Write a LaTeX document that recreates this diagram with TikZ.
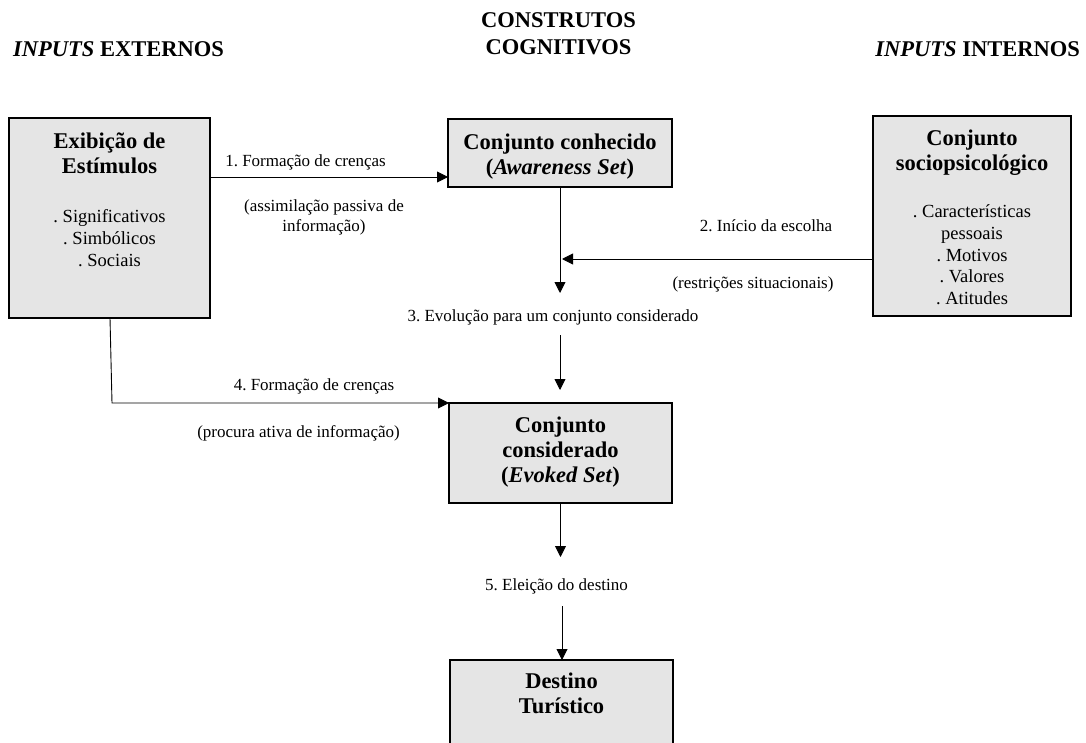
\documentclass[tikz,border=0pt]{standalone}
\usepackage{fontspec}
\setmainfont{Liberation Serif}
\usetikzlibrary{arrows.meta}
\frenchspacing
\begin{document}
\begin{tikzpicture}[x=1pt,y=-1pt,
  box/.style={draw=black, line width=1.4pt, fill=black!10, inner sep=0pt, outer sep=0pt, anchor=north west},
  ttl/.style={font=\fontsize{22.5}{25}\selectfont\bfseries, align=center, inner sep=0pt, anchor=north},
  itm/.style={font=\fontsize{18.5}{21.8}\selectfont, align=center, inner sep=0pt, anchor=north},
  lbl/.style={font=\fontsize{17}{20}\selectfont, align=center, inner sep=0pt, anchor=base},
  lblm/.style={font=\fontsize{17}{20}\selectfont, align=center, inner sep=0pt, anchor=north},
  hdr/.style={font=\fontsize{22.5}{26.7}\selectfont\bfseries, inner sep=0pt},
  arr/.style={line width=0.9pt, -{Triangle[length=11pt,width=11pt]}},
  ln/.style={line width=0.9pt}]
\useasboundingbox (0,0) rectangle (1086,743);
\clip (0,0) rectangle (1086,743);

% headers
\node[hdr, anchor=base west] (hExt) at (13,57) {\textit{INPUTS} EXTERNOS};
\node[hdr, anchor=north, align=center] (hCog) at (558.5,12.5) {CONSTRUTOS\\COGNITIVOS};
\node[hdr, anchor=base east] (hInt) at (1080,57) {\textit{INPUTS} INTERNOS};

% boxes
\node[box, minimum width=201pt, minimum height=200pt] (box1) at (9,118) {};
\node[box, minimum width=224pt, minimum height=68pt] (box2) at (448,119) {};
\node[box, minimum width=198pt, minimum height=200pt] (box3) at (873,116) {};
\node[box, minimum width=223pt, minimum height=100pt] (box4) at (449,403) {};
\node[box, minimum width=223pt, minimum height=120pt] (box5) at (450,660) {};

% box texts
\node[ttl] (t1) at (109.5,133) {Exibição de\\Estímulos};
\node[itm] (i1) at (109.5,209.5) {. Significativos\\. Simbólicos\\. Sociais};
\node[ttl] (t2) at (560,133.5) {Conjunto conhecido\\(\textit{Awareness Set})};
\node[ttl] (t3) at (972,130) {Conjunto\\sociopsicológico};
\node[itm] (i3) at (972,204.5) {. Características\\pessoais\\. Motivos\\. Valores\\. Atitudes};
\node[ttl] (t4) at (560.5,417) {Conjunto\\considerado\\(\textit{Evoked Set})};
\node[ttl] (t5) at (561.5,673) {Destino\\Turístico};

% labels
\node[lbl] (l1) at (305.5,167) {1. Formação de crenças};
\node[lblm] (l1b) at (324,200) {(assimilação passiva de\\informação)};
\node[lbl] (l2) at (766,232) {2. Início da escolha};
\node[lbl] (l2b) at (753,288) {(restrições situacionais)};
\node[lbl] (l3) at (553,321) {3. Evolução para um conjunto considerado};
\node[lbl] (l4) at (314,390) {4. Formação de crenças};
\node[lbl] (l4b) at (298.5,437) {(procura ativa de informação)};
\node[lbl] (l5) at (556.5,590) {5. Eleição do destino};

% coordinates for free ends
\coordinate (e1) at (560,293);
\coordinate (j2) at (562,259);
\coordinate (s3) at (560,335);
\coordinate (e5) at (560.5,557);
\coordinate (s6) at (562,606);

% connectors
\draw[arr] ([yshift=-59pt]box1.north east) -- ([yshift=10pt]box2.south west);
\draw[arr] (box2.south) -- (e1);
\draw[arr] (box3.west |- j2) -- (j2);
\draw[arr, shorten >=13pt] (s3) -- (s3 |- box4.north);
\draw[arr] ([xshift=101pt]box1.south west) -- ([xshift=103pt]box1.south west |- box4.north west) -- (box4.north west);
\draw[arr] (box4.south) -- (e5);
\draw[arr] (s6) -- (s6 |- box5.north);
\end{tikzpicture}
\end{document}
